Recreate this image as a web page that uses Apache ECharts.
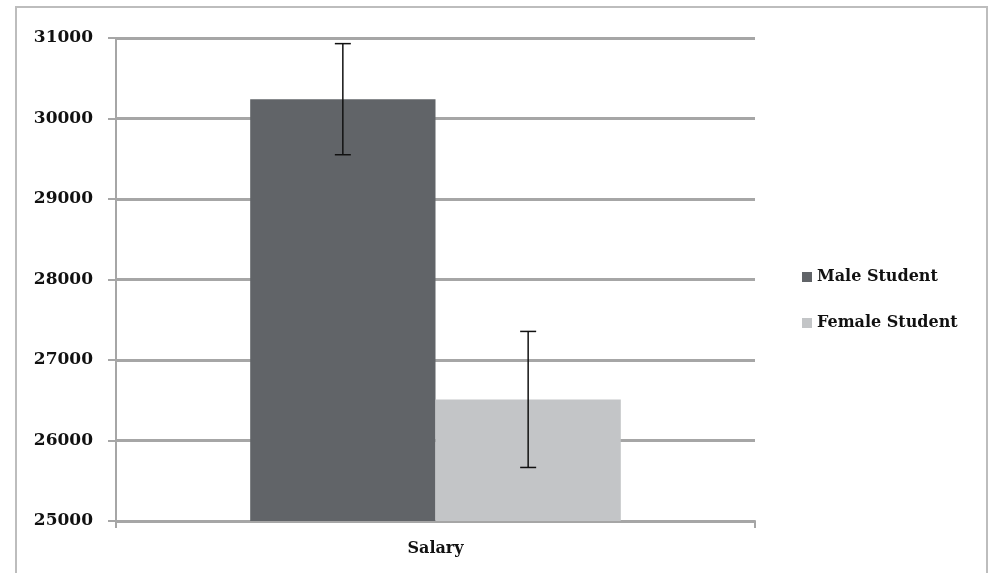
<!DOCTYPE html>
<html>
<head>
<meta charset="utf-8">
<script src="https://cdn.jsdelivr.net/npm/echarts@6/dist/echarts.min.js"></script>
<style>
html,body{margin:0;padding:0;background:#fff;}
#chart{width:992px;height:573px;}
</style>
</head>
<body>
<div id="chart"></div>
<script>
var categories = ['Salary'];
var seriesNames = ['Male Student', 'Female Student'];
var maleValues = [30240];
var femaleValues = [26510];
var maleErrors = [690];
var femaleErrors = [845];
var yTicks = [25000, 26000, 27000, 28000, 29000, 30000, 31000];

var FONT = '"DejaVu Serif", serif';
var BAR_GAP_PCT = 0.42;

function errorSeries(values, errors, side, name) {
  var data = values.map(function (v, i) { return [i, v - errors[i], v + errors[i]]; });
  return {
    type: 'custom',
    name: name + ' error',
    silent: true,
    z: 10,
    renderItem: function (params, api) {
      var band = api.size([1, 0])[0];
      var off = side * band * (1 - BAR_GAP_PCT) / 4;
      var lo = api.coord([api.value(0), api.value(1)]);
      var hi = api.coord([api.value(0), api.value(2)]);
      var x = lo[0] + off;
      var cap = 8;
      var style = { stroke: '#111', lineWidth: 1.5 };
      return {
        type: 'group',
        children: [
          { type: 'line', shape: { x1: x, y1: hi[1], x2: x, y2: lo[1] }, style: style },
          { type: 'line', shape: { x1: x - cap, y1: hi[1], x2: x + cap, y2: hi[1] }, style: style },
          { type: 'line', shape: { x1: x - cap, y1: lo[1], x2: x + cap, y2: lo[1] }, style: style }
        ]
      };
    },
    encode: { x: 0, y: [1, 2] },
    data: data
  };
}

var chart = echarts.init(document.getElementById('chart'));
chart.setOption({
  animation: false,
  backgroundColor: '#fff',
  graphic: [{
    type: 'rect',
    shape: { x: 16, y: 7, width: 971, height: 580 },
    style: { fill: 'none', stroke: '#bdbdbd', lineWidth: 2 },
    silent: true, z: -1
  }],
  grid: { left: 116, top: 38, width: 639, height: 483 },
  legend: {
    orient: 'vertical',
    left: 797,
    top: 264,
    itemWidth: 10,
    itemHeight: 10,
    itemGap: 30,
    icon: 'rect',
    data: seriesNames,
    textStyle: { fontFamily: FONT, fontWeight: 'bold', fontSize: 16, color: '#111' }
  },
  xAxis: {
    type: 'category',
    data: categories,
    axisLine: { show: true, lineStyle: { color: '#a6a6a6', width: 2 } },
    axisTick: { show: true, length: 7, lineStyle: { color: '#a6a6a6', width: 2 } },
    axisLabel: { fontFamily: FONT, fontWeight: 'bold', fontSize: 16, color: '#111', margin: 20 }
  },
  yAxis: {
    type: 'value',
    min: yTicks[0],
    max: yTicks[yTicks.length - 1],
    interval: 1000,
    axisLine: { show: true, lineStyle: { color: '#a6a6a6', width: 2 } },
    axisTick: { show: true, length: 8, lineStyle: { color: '#a6a6a6', width: 2 } },
    splitLine: { show: true, lineStyle: { color: '#a6a6a6', width: 3 } },
    axisLabel: {
      fontFamily: FONT, fontWeight: 'bold', fontSize: 17, color: '#111', margin: 23,
      formatter: function (v) { return String(v); }
    }
  },
  series: [
    {
      type: 'bar', name: seriesNames[0], data: maleValues,
      barCategoryGap: '42%', barGap: '0%',
      itemStyle: { color: '#616468' }
    },
    {
      type: 'bar', name: seriesNames[1], data: femaleValues,
      barCategoryGap: '42%', barGap: '0%',
      itemStyle: { color: '#c3c5c7' }
    },
    errorSeries(maleValues, maleErrors, -1, seriesNames[0]),
    errorSeries(femaleValues, femaleErrors, 1, seriesNames[1])
  ]
});
</script>
</body>
</html>
